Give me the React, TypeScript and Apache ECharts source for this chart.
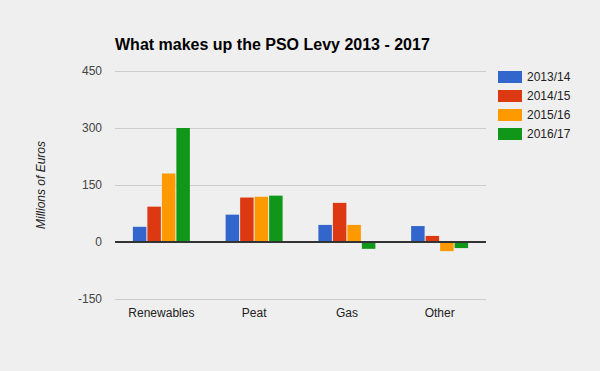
import React, { useEffect, useRef } from "react";
import * as echarts from "echarts";

const categories = ["Renewables", "Peat", "Gas", "Other"];
const seriesNames = ["2013/14", "2014/15", "2015/16", "2016/17"];
const s2013 = [40, 72, 45, 42];
const s2014 = [93, 117, 103, 16];
const s2015 = [180, 119, 45, -24];
const s2016 = [300, 122, -18, -16];
const seriesValues = [s2013, s2014, s2015, s2016];
const colors = ["#3366cc", "#dc3912", "#ff9900", "#109618"];

export default function App() {
  const ref = useRef<HTMLDivElement>(null);
  useEffect(() => {
    document.body.style.margin = "0";
    const chart = echarts.init(ref.current!, null, { renderer: "svg" });
    chart.setOption({
      animation: false,
      backgroundColor: "#efefef",
      textStyle: { fontFamily: "Liberation Sans, Arial, sans-serif" },
      title: {
        text: "What makes up the PSO Levy 2013 - 2017",
        left: 110,
        top: 31,
        textStyle: { fontSize: 16, fontWeight: "bold", color: "#000", fontFamily: "Liberation Sans, Arial, sans-serif" },
      },
      legend: {
        orient: "vertical",
        left: 493,
        top: 66,
        itemWidth: 24,
        itemHeight: 12,
        itemGap: 7,
        icon: "rect",
        textStyle: { fontSize: 12, color: "#222", lineHeight: 12, padding: [0, 0, 0, 0] },
        data: seriesNames,
      },
      grid: { left: 115, right: 114, top: 71, bottom: 72, containLabel: false },
      xAxis: {
        type: "category",
        data: categories,
        axisLine: { show: false },
        axisTick: { show: false },
        axisLabel: { fontSize: 12, color: "#222", margin: 8 },
      },
      yAxis: {
        type: "value",
        min: -150,
        max: 450,
        interval: 150,
        name: "Millions of Euros",
        nameLocation: "middle",
        nameGap: 68,
        nameTextStyle: { fontStyle: "italic", fontSize: 12, color: "#222" },
        axisLine: { show: false },
        axisTick: { show: false },
        axisLabel: { fontSize: 12, color: "#444", margin: 13 },
        splitLine: { lineStyle: { color: "#cccccc", width: 1 } },
      },
      series: seriesNames.map((name, i) => ({
        name,
        type: "bar",
        data: seriesValues[i],
        barWidth: 13.5,
        barGap: "7.4%",
        itemStyle: { color: colors[i] },
        markLine: i === 0 ? {
          silent: true,
          symbol: "none",
          label: { show: false },
          lineStyle: { color: "#333", width: 2, type: "solid" },
          data: [{ yAxis: 0 }],
        } : undefined,
      })),
    });
    return () => chart.dispose();
  }, []);
  return <div ref={ref} style={{ width: 600, height: 371 }} />;
}
